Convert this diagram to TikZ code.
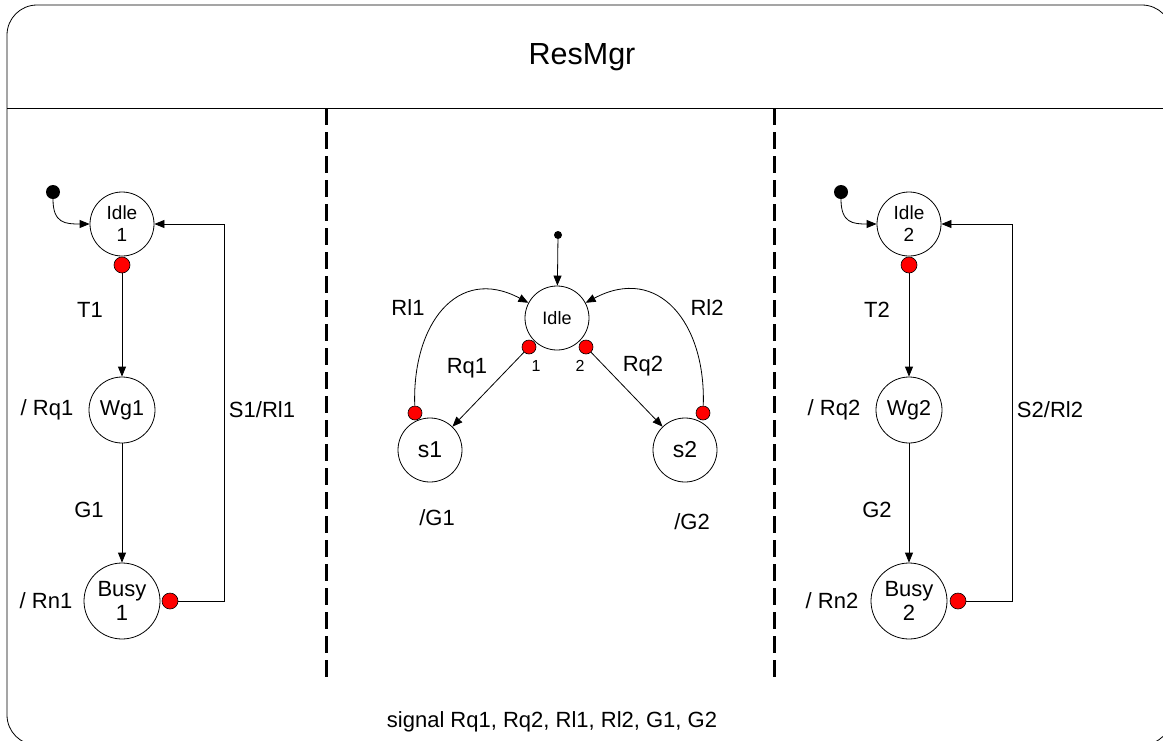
\documentclass[tikz,border=0pt]{standalone}
\usepackage{fontspec}
\setmainfont{Liberation Sans}
\usetikzlibrary{arrows.meta}
\tikzset{
  st/.style={draw, circle, inner sep=0pt, align=center, line width=0.8pt},
  rdot/.style={draw, circle, fill=red, inner sep=0pt, minimum size=16pt, line width=0.6pt},
  rdotm/.style={draw, circle, fill=red, inner sep=0pt, minimum size=14pt, line width=0.6pt},
  initdot/.style={circle, fill=black, inner sep=0pt, minimum size=14pt},
  arr/.style={line width=0.8pt, -{Triangle[length=10pt,width=8pt]}},
  plain/.style={line width=0.8pt},
  lbl/.style={font=\fontsize{22}{26}\selectfont, inner sep=0pt},
  divider/.style={line width=3pt, dash pattern=on 17pt off 7pt}
}
\begin{document}
\begin{tikzpicture}[x=1pt,y=-1pt]
\useasboundingbox (0,0) rectangle (1163,740);
% frame
\draw[plain, rounded corners=30pt] (7,5) rectangle (1172,745);
\draw[plain] (7,108) -- (1172,108);
\node[font=\fontsize{30.5}{36}\selectfont] (title) at (582,57) {ResMgr};
\draw[divider] (326,108) -- (326,680);
\draw[divider] (774,108) -- (774,680);

% ---------- left region ----------
\node[initdot] (i1) at (53,192) {};
\node[st, minimum size=64pt, font=\fontsize{19}{22}\selectfont] (idle1) at (122,224) {Idle\\1};
\node[rdot] (p1) at (122,265) {};
\node[st, minimum size=66pt, font=\fontsize{21.5}{24}\selectfont] (wg1) at (122,410) {Wg1};
\node[st, minimum size=76pt, font=\fontsize{22}{24}\selectfont] (busy1) at (122,601) {Busy\\1};
\node[rdot] (b1) at (170,601) {};
\coordinate (c1) at (224,601);
\draw[arr] (i1) to[out=-90,in=180,looseness=1.4] (idle1.west);
\draw[arr] (p1) -- (wg1);
\draw[arr] (wg1) -- (busy1);
\draw[arr] (b1) -- (c1) |- (idle1);
\node[lbl] (t1) at (90,310) {T1};
\node[lbl] (rq1l) at (47,410) {/ Rq1};
\node[lbl] (g1) at (89,510) {G1};
\node[lbl] (rn1) at (46,601) {/ Rn1};
\node[lbl] (s1rl1) at (262,410) {S1/Rl1};

% ---------- right region ----------
\node[initdot] (i2) at (841,192) {};
\node[st, minimum size=64pt, font=\fontsize{19}{22}\selectfont] (idle2) at (909,224) {Idle\\2};
\node[rdot] (p2) at (909,265) {};
\node[st, minimum size=66pt, font=\fontsize{21.5}{24}\selectfont] (wg2) at (909,410) {Wg2};
\node[st, minimum size=76pt, font=\fontsize{22}{24}\selectfont] (busy2) at (909,601) {Busy\\2};
\node[rdot] (b2) at (958,601) {};
\coordinate (c2) at (1012,601);
\draw[arr] (i2) to[out=-90,in=180,looseness=1.4] (idle2.west);
\draw[arr] (p2) -- (wg2);
\draw[arr] (wg2) -- (busy2);
\draw[arr] (b2) -- (c2) |- (idle2);
\node[lbl] (t2) at (877,310) {T2};
\node[lbl] (rq2l) at (834,410) {/ Rq2};
\node[lbl] (g2) at (877,510) {G2};
\node[lbl] (rn2) at (832,601) {/ Rn2};
\node[lbl] (s2rl2) at (1050,410) {S2/Rl2};

% ---------- middle region ----------
\node[circle, fill=black, inner sep=0pt, minimum size=8pt] (i0) at (558,235) {};
\node[st, minimum size=64pt, font=\fontsize{18}{21}\selectfont] (idle0) at (557,318) {Idle};
\node[rdotm] (q1) at (529,347) {};
\node[rdotm] (q2) at (586,347) {};
\node[st, minimum size=64pt, font=\fontsize{23}{26}\selectfont] (s1) at (430,450) {s1};
\node[st, minimum size=64pt, font=\fontsize{23}{26}\selectfont] (s2) at (685,450) {s2};
\node[rdotm] (r1) at (415,413) {};
\node[rdotm] (r2) at (703,413) {};
\draw[arr] (i0) -- (idle0);
\draw[arr] (q1) -- (s1);
\draw[arr] (q2) -- (s2);
\draw[arr] (r1) to[out=92,in=152,looseness=1.35] (idle0);
\draw[arr] (r2) to[out=88,in=28,looseness=1.35] (idle0);
\node[font=\fontsize{16}{19}\selectfont, inner sep=0pt] (n1) at (536,366) {1};
\node[font=\fontsize{16}{19}\selectfont, inner sep=0pt] (n2) at (580,366) {2};
\node[lbl] (rl1) at (408,308) {Rl1};
\node[lbl] (rl2) at (707,308) {Rl2};
\node[lbl] (rq1) at (467,368) {Rq1};
\node[lbl] (rq2) at (643,366) {Rq2};
\node[lbl] (g1m) at (437,518) {/G1};
\node[lbl] (g2m) at (692,522) {/G2};

\node[lbl] (sig) at (552,722) {signal Rq1, Rq2, Rl1, Rl2, G1, G2};
\end{tikzpicture}
\end{document}
